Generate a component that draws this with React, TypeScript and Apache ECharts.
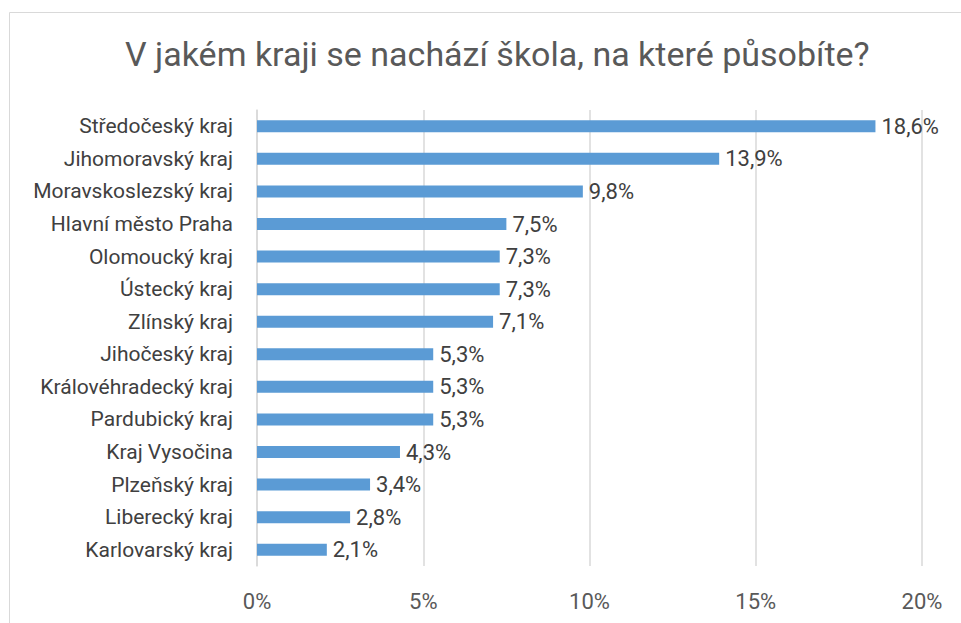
import React, { useEffect, useRef } from "react";
import * as echarts from "echarts";

const categories = [
  "Středočeský kraj",
  "Jihomoravský kraj",
  "Moravskoslezský kraj",
  "Hlavní město Praha",
  "Olomoucký kraj",
  "Ústecký kraj",
  "Zlínský kraj",
  "Jihočeský kraj",
  "Královéhradecký kraj",
  "Pardubický kraj",
  "Kraj Vysočina",
  "Plzeňský kraj",
  "Liberecký kraj",
  "Karlovarský kraj",
];
const values = [18.6, 13.9, 9.8, 7.5, 7.3, 7.3, 7.1, 5.3, 5.3, 5.3, 4.3, 3.4, 2.8, 2.1];
const titleText = "V jakém kraji se nachází škola, na které působíte?";

const FONT = "Roboto, 'Open Sans', sans-serif";

export default function App() {
  const ref = useRef<HTMLDivElement>(null);
  useEffect(() => {
    document.body.style.margin = "0";
    const chart = echarts.init(ref.current!, null, { renderer: "svg" });
    chart.setOption({
      animation: false,
      backgroundColor: "#ffffff",
      title: {
        text: titleText,
        left: 120,
        top: 32,
        textStyle: { fontFamily: FONT, fontSize: 34, fontWeight: "normal", color: "#595959" },
      },
      graphic: [
        {
          type: "rect",
          shape: { x: 9.5, y: 12.5, width: 1000, height: 700 },
          style: { fill: "none", stroke: "#d9d9d9", lineWidth: 1 },
          silent: true,
        },
      ],
      grid: { left: 257, right: 39, top: 110, bottom: 57, containLabel: false },
      xAxis: {
        type: "value",
        min: 0,
        max: 20,
        interval: 5,
        axisLine: { show: false },
        axisTick: { show: false },
        splitLine: { show: true, lineStyle: { color: "#d9d9d9", width: 1.5 } },
        axisLabel: {
          formatter: (v: number) => v + "%",
          fontFamily: FONT,
          fontSize: 22,
          color: "#595959",
          margin: 24,
        },
      },
      yAxis: {
        type: "category",
        data: categories,
        inverse: true,
        axisLine: { show: true, lineStyle: { color: "#d9d9d9", width: 1.5 } },
        axisTick: { show: false },
        axisLabel: {
          fontFamily: FONT,
          fontSize: 21,
          color: "#404040",
          margin: 24,
        },
      },
      series: [
        {
          type: "bar",
          data: values,
          barWidth: 12,
          itemStyle: { color: "#5b9bd5" },
          label: {
            show: true,
            position: "right",
            distance: 6,
            formatter: (p: any) => String(p.value.toFixed(1)).replace(".", ",") + "%",
            fontFamily: FONT,
            fontSize: 22,
            color: "#404040",
          },
        },
      ],
    });
    return () => chart.dispose();
  }, []);
  return <div ref={ref} style={{ width: 961, height: 623 }} />;
}
